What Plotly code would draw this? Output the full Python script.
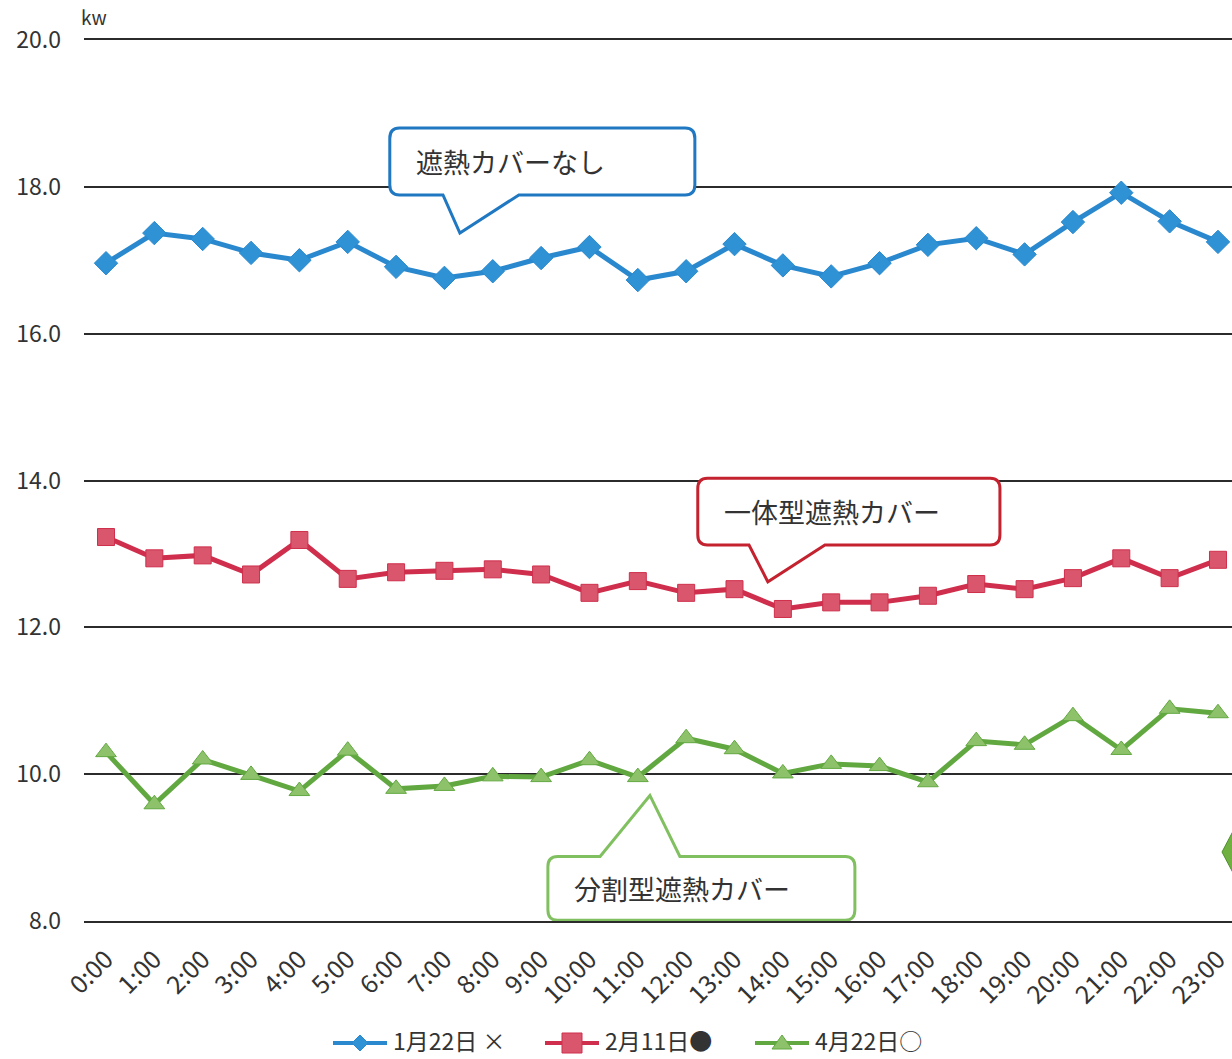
import plotly.graph_objects as go

# Hourly power readings (kW) for three days with different heat-shield covers
hours = [f"{h}:00" for h in range(24)]

jan22 = [16.96, 17.37, 17.29, 17.10, 17.00, 17.25, 16.91, 16.76, 16.85, 17.03,
         17.18, 16.73, 16.85, 17.22, 16.93, 16.78, 16.96, 17.21, 17.30, 17.08,
         17.52, 17.92, 17.53, 17.25]
feb11 = [13.23, 12.94, 12.98, 12.72, 13.19, 12.66, 12.75, 12.77, 12.79, 12.72,
         12.47, 12.63, 12.47, 12.52, 12.25, 12.34, 12.34, 12.43, 12.59, 12.52,
         12.67, 12.94, 12.67, 12.92]
apr22 = [10.30, 9.59, 10.20, 9.99, 9.77, 10.32, 9.80, 9.84, 9.97, 9.96,
         10.19, 9.96, 10.49, 10.34, 10.01, 10.14, 10.11, 9.89, 10.45, 10.40,
         10.79, 10.33, 10.89, 10.83]

series_names = ["1月22日 ×", "2月11日●", "4月22日○"]
y_ticks = [8, 10, 12, 14, 16, 18, 20]
callout_texts = ["遮熱カバーなし", "一体型遮熱カバー", "分割型遮熱カバー"]

FONT = "Noto Sans CJK JP"
TEXT = "#333333"
GRID = "#2b2b2b"
W, H = 1232, 1059
ML, MT, MB = 84, 40, 138
PW, PH = W - ML, H - MT - MB
xpos = list(range(len(hours)))


def pxx(x):
    """Horizontal page pixel -> paper fraction."""
    return (x - ML) / PW


def pxy(y):
    """Vertical page pixel (from top) -> paper fraction."""
    return (H - MB - y) / PH


fig = go.Figure()
styles = [
    (jan22, "#2a89ce", "#2e92d4", "diamond", 18),
    (feb11, "#cf2f4c", "#d9566c", "square", 17),
    (apr22, "#62a840", "#8dc26b", "triangle-up", 18),
]
for name, (vals, lc, mc, sym, ms) in zip(series_names, styles):
    fig.add_trace(go.Scatter(
        x=xpos, y=vals, name=name, mode="lines+markers",
        line=dict(color=lc, width=5),
        marker=dict(symbol=sym, size=ms, color=mc,
                    line=dict(color=lc, width=1)),
        hoverinfo="skip",
    ))

# Speech-bubble callouts drawn in data units
DX, DY = 0.2, 0.14  # corner radius in x / y units


def bubble(x0, x1, y0, y1, tail, side):
    """Rounded box from (x0,y0) bottom-left to (x1,y1) top-right with a tail.
    tail = (base_left, base_right, tip_x, tip_y); side = 'bottom' or 'top'."""
    bl, br, tx, ty = tail
    p = [f"M {x0 + DX},{y1}"]
    if side == "top":
        p += [f"L {bl},{y1}", f"L {tx},{ty}", f"L {br},{y1}"]
    p += [f"L {x1 - DX},{y1}", f"Q {x1},{y1} {x1},{y1 - DY}",
          f"L {x1},{y0 + DY}", f"Q {x1},{y0} {x1 - DX},{y0}"]
    if side == "bottom":
        p += [f"L {br},{y0}", f"L {tx},{ty}", f"L {bl},{y0}"]
    p += [f"L {x0 + DX},{y0}", f"Q {x0},{y0} {x0},{y0 + DY}",
          f"L {x0},{y1 - DY}", f"Q {x0},{y1} {x0 + DX},{y1}", "Z"]
    return " ".join(p)


callouts = [
    (5.87, 12.18, 17.89, 18.80, (6.97, 8.54, 7.32, 17.37), "bottom", "#1f78c1"),
    (12.24, 18.49, 13.12, 14.03, (13.30, 14.87, 13.69, 12.62), "bottom", "#c3222e"),
    (9.14, 15.49, 8.01, 8.88, (10.22, 11.87, 11.25, 9.71), "top", "#80c060"),
]
for text, (x0, x1, y0, y1, tail, side, col) in zip(callout_texts, callouts):
    fig.add_shape(type="path", path=bubble(x0, x1, y0, y1, tail, side),
                  xref="x", yref="y", line=dict(color=col, width=3),
                  fillcolor="white", layer="above")
    fig.add_annotation(x=x0 + 0.5, y=(y0 + y1) / 2,
                       xref="x", yref="y", text=text, showarrow=False,
                       xanchor="left", yanchor="middle",
                       font=dict(family=FONT, size=27, color=TEXT))

# Partial green marker at the right page edge
fig.add_shape(type="path", xref="paper", yref="paper",
              path=(f"M {pxx(1222)},{pxy(852)} L {pxx(1240)},{pxy(818)} "
                    f"L {pxx(1258)},{pxy(852)} L {pxx(1240)},{pxy(886)} Z"),
              fillcolor="#6fb040", line=dict(color="#4f8f2a", width=1), layer="above")

# Legend row below the axis: line sample, marker glyph, label
LEG_Y = 1043
legend_items = [(333, "diamond"), (545, "square"), (755, "triangle")]
for name, (x_start, glyph), (_, lc, mc, _, _) in zip(series_names, legend_items, styles):
    x_end = x_start + 54
    cx = (x_start + x_end) / 2
    fig.add_shape(type="line", xref="paper", yref="paper",
                  x0=pxx(x_start), x1=pxx(x_end), y0=pxy(LEG_Y), y1=pxy(LEG_Y),
                  line=dict(color=lc, width=4))
    if glyph == "diamond":
        pts = [(cx - 8, LEG_Y), (cx, LEG_Y - 8), (cx + 8, LEG_Y), (cx, LEG_Y + 8)]
    elif glyph == "square":
        pts = [(cx - 10, LEG_Y - 10), (cx + 10, LEG_Y - 10),
               (cx + 10, LEG_Y + 10), (cx - 10, LEG_Y + 10)]
    else:
        pts = [(cx - 10, LEG_Y + 6), (cx, LEG_Y - 8), (cx + 10, LEG_Y + 6)]
    path = "M " + " L ".join(f"{pxx(a)},{pxy(b)}" for a, b in pts) + " Z"
    fig.add_shape(type="path", xref="paper", yref="paper", path=path,
                  fillcolor=mc, line=dict(color=lc, width=1))
    fig.add_annotation(x=pxx(x_end + 4), y=pxy(LEG_Y - 3), xref="paper", yref="paper",
                       text=name, showarrow=False, xanchor="left", yanchor="middle",
                       font=dict(family=FONT, size=23, color=TEXT))

fig.add_annotation(x=pxx(79), y=pxy(16), xref="paper", yref="paper", text="kw",
                   showarrow=False, xanchor="left", yanchor="middle",
                   font=dict(family=FONT, size=19, color=TEXT))

fig.update_layout(
    width=W, height=H,
    margin=dict(l=ML, r=0, t=MT, b=MB),
    paper_bgcolor="white", plot_bgcolor="white",
    showlegend=False,
    font=dict(family=FONT, color=TEXT),
)
fig.update_xaxes(
    range=[-0.455, 23.29], tickmode="array", tickvals=xpos, ticktext=hours,
    tickangle=-45, showgrid=False, zeroline=False, automargin=False,
    showline=True, mirror=True, linecolor=GRID, linewidth=1.5,
    tickfont=dict(family=FONT, size=25, color=TEXT), ticks="",
    ticklabelstandoff=12,
)
fig.update_yaxes(
    range=[8, 20], tickmode="array", tickvals=y_ticks,
    ticktext=[f"{v:.1f}" for v in y_ticks], automargin=False,
    showgrid=True, gridcolor=GRID, gridwidth=1.5, zeroline=False,
    showline=False, ticks="", ticklabelstandoff=22,
    tickfont=dict(family=FONT, size=23, color=TEXT),
)

fig.write_html("out.html")
